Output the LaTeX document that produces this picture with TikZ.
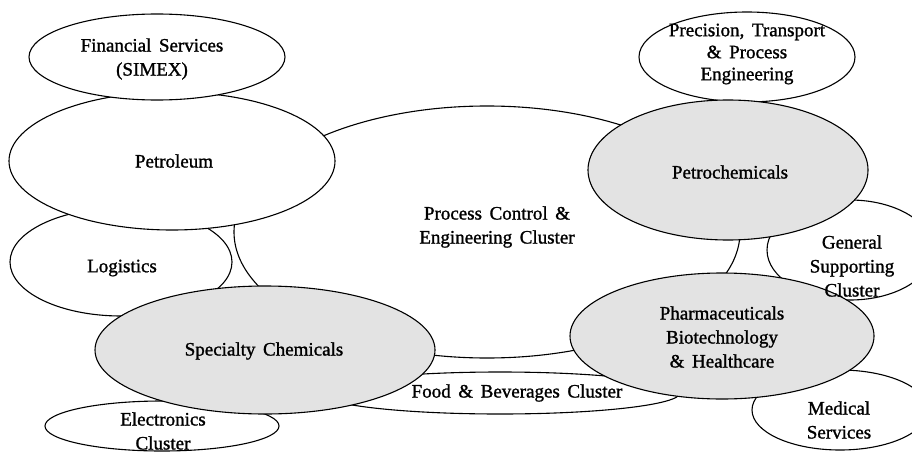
\documentclass[tikz,border=0pt]{standalone}
\usepackage{fontspec}
\setmainfont{Liberation Serif}[FakeBold=1.2]
\usetikzlibrary{shapes.geometric}
\newcommand{\txtfont}{\fontsize{19}{24}\selectfont\spaceskip=0.4em plus 0.1em\relax}
\newcommand{\precfont}{\fontsize{19}{22}\selectfont\spaceskip=0.4em plus 0.1em\relax}
\tikzset{
  blob/.style={ellipse, draw=black, line width=1.1pt, fill=white, inner sep=0pt},
  shaded/.style={blob, fill=black!11},
  txt/.style={align=center, font=\txtfont, inner sep=0pt},
}
\begin{document}
\begin{tikzpicture}[x=1pt, y=-1pt]
\clip (0,0) rectangle (912,452);
\fill[white] (0,0) rectangle (912,452);
% bottom layer
\node[blob, minimum width=506pt, minimum height=252pt] (proc) at (487,232) {};
\node[blob, minimum width=166pt, minimum height=100pt] (gen) at (850,250) {};
\node[blob, minimum width=176pt, minimum height=80pt] (med) at (840,410) {};
\node[blob, minimum width=360pt, minimum height=42pt] (food) at (500,393) {};
\node[blob, minimum width=222pt, minimum height=108pt] (logi) at (121,262) {};
\node[blob, minimum width=234pt, minimum height=50pt] (elec) at (162,426) {};
\node[blob, minimum width=326pt, minimum height=138pt] (petro) at (172,161) {};
\node[blob, minimum width=256pt, minimum height=86pt] (fin) at (157,57) {};
\node[blob, minimum width=216pt, minimum height=90pt] (prec) at (747,57) {};
\node[shaded, minimum width=280pt, minimum height=140pt] (pchem) at (728,170) {};
\node[shaded, minimum width=340pt, minimum height=128pt] (spec) at (265,350) {};
\node[shaded, minimum width=304pt, minimum height=126pt] (pharm) at (722,336) {};
% texts
\node[txt] (tfin) at (152,59) {Financial Services\\(SIMEX)};
\node[txt] (tpetro) at (174,161) {Petroleum};
\node[txt] (tlogi) at (122,268) {Logistics};
\node[txt] (tproc) at (497,227) {Process Control \&\\Engineering Cluster};
\node[txt, font=\precfont] (tprec) at (747,54) {Precision, Transport\\\& Process\\Engineering};
\node[txt] (tpchem) at (730,172) {Petrochemicals};
\node[txt] (tgen) at (852,266) {General\\Supporting\\Cluster};
\node[txt] (tpharm) at (722,337) {Pharmaceuticals\\Biotechnology\\\& Healthcare};
\node[txt] (tmed) at (839,420) {Medical\\Services};
\node[txt] (tspec) at (264,351) {Specialty Chemicals};
\node[txt] (tfood) at (517,393) {Food \& Beverages Cluster};
\node[txt] (telec) at (163,431) {Electronics\\Cluster};
\end{tikzpicture}
\end{document}
